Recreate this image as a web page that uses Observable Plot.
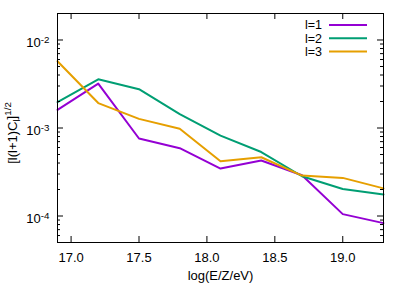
<!DOCTYPE html>
<html>
<head>
<meta charset="utf-8">
<script src="https://cdn.jsdelivr.net/npm/d3@7"></script>
<script src="https://cdn.jsdelivr.net/npm/@observablehq/plot@0.6"></script>
<style>
  html, body { margin: 0; padding: 0; background: white; }
  #chart { width: 407px; height: 285px; }
</style>
</head>
<body>
<div id="chart"></div>
<script>
// ---- data ----
const energy = [16.9, 17.2, 17.5, 17.8, 18.1, 18.4, 18.7, 19.0, 19.3];
const seriesNames = ["l=1", "l=2", "l=3"];
const seriesColors = ["#9400d3", "#009e73", "#e69f00"];
const l1 = [1.61e-3, 3.2e-3, 7.6e-4, 5.9e-4, 3.46e-4, 4.27e-4, 2.9e-4, 1.05e-4, 8.3e-5];
const l2 = [1.97e-3, 3.58e-3, 2.76e-3, 1.44e-3, 8.2e-4, 5.33e-4, 2.83e-4, 2.03e-4, 1.76e-4];
const l3 = [5.73e-3, 1.92e-3, 1.27e-3, 9.8e-4, 4.19e-4, 4.65e-4, 2.88e-4, 2.71e-4, 2.06e-4];
const xTicks = [17, 17.5, 18, 18.5, 19];
const yMajorTicks = [1e-4, 1e-3, 1e-2];
const yTickLabels = ["10^-4", "10^-3", "10^-2"];
const yMinorTicks = [6e-5, 7e-5, 8e-5, 9e-5,
  2e-4, 3e-4, 4e-4, 5e-4, 6e-4, 7e-4, 8e-4, 9e-4,
  2e-3, 3e-3, 4e-3, 5e-3, 6e-3, 7e-3, 8e-3, 9e-3];
const xLabel = "log(E/Z/eV)";
const yLabel = "[l(l+1)C_l]^{1/2}";

const rows = [l1, l2, l3].flatMap((vals, i) =>
  energy.map((e, j) => ({x: e, y: vals[j], s: seriesNames[i]})));

const W = 407, H = 285, ML = 57, MR = 24, MT = 13, MB = 43;
const plotW = W - ML - MR, plotH = H - MT - MB;

function legendMark(index, scales, values, dimensions) {
  const g = d3.create("svg:g");
  const right = dimensions.width - dimensions.marginRight;
  seriesNames.forEach((s, i) => {
    const y = dimensions.marginTop + 12 + i * 13.3;
    g.append("text")
      .attr("x", right - 61).attr("y", y).attr("dy", "0.35em")
      .attr("text-anchor", "end").attr("fill", "black")
      .attr("font-size", 12.5).text(s);
    g.append("line")
      .attr("x1", right - 54).attr("x2", right - 16)
      .attr("y1", y).attr("y2", y)
      .attr("stroke", seriesColors[i]).attr("stroke-width", 2);
  });
  return g.node();
}

const fmtY = d => yTickLabels[yMajorTicks.indexOf(d)];

const chart = Plot.plot({
  width: W,
  height: H,
  marginLeft: ML,
  marginRight: MR,
  marginTop: MT,
  marginBottom: MB,
  style: {fontFamily: "'Liberation Sans', Arial, sans-serif", fontSize: "13px", background: "white", color: "black"},
  x: {domain: [16.9, 19.3]},
  y: {type: "log", domain: [5e-5, 2e-2]},
  color: {domain: seriesNames, range: seriesColors},
  marks: [
    Plot.line(rows, {x: "x", y: "y", z: "s", stroke: "s", strokeWidth: 2}),
    // inward ticks on all four sides
    Plot.ruleX(xTicks, {x: d => d, insetTop: plotH - 6, stroke: "black"}),
    Plot.ruleX(xTicks, {x: d => d, insetBottom: plotH - 6, stroke: "black"}),
    Plot.ruleY(yMajorTicks, {y: d => d, insetRight: plotW - 6, stroke: "black"}),
    Plot.ruleY(yMajorTicks, {y: d => d, insetLeft: plotW - 6, stroke: "black"}),
    Plot.ruleY(yMinorTicks, {y: d => d, insetRight: plotW - 3, stroke: "black"}),
    Plot.ruleY(yMinorTicks, {y: d => d, insetLeft: plotW - 3, stroke: "black"}),
    Plot.axisX(xTicks, {anchor: "bottom", tickSize: 0, tickPadding: 10, label: xLabel, labelAnchor: "center", labelArrow: "none", labelOffset: 37, fontSize: 13}),
    Plot.axisY(yMajorTicks, {anchor: "left", tickSize: 0, tickPadding: 8, tickFormat: fmtY, label: null, fontSize: 13}),
    Plot.text([yLabel], {frameAnchor: "left", dx: -45, dy: 5, rotate: -90, text: d => d, fontSize: 13, textAnchor: "middle"}),
    Plot.frame({stroke: "black"}),
    legendMark
  ]
});

// superscript / subscript post-processing
d3.select(chart).selectAll("text").each(function() {
  const t = this.textContent;
  const m = /^10\^(-?\d+)$/.exec(t);
  if (m) {
    const sel = d3.select(this);
    sel.text("");
    sel.append("tspan").text("10");
    sel.append("tspan").attr("dy", "-0.45em").attr("font-size", "0.75em").text(m[1]);
    sel.attr("transform", (sel.attr("transform") || "") + " translate(0,3)");
  } else if (t === yLabel) {
    const sel = d3.select(this);
    sel.text("");
    sel.append("tspan").text("[l(l+1)C");
    sel.append("tspan").attr("dy", "0.3em").attr("font-size", "0.75em").text("l");
    sel.append("tspan").attr("dy", "-0.3em").text("]");
    sel.append("tspan").attr("dy", "-0.5em").attr("font-size", "0.75em").text("1/2");
  }
});

document.getElementById("chart").appendChild(chart);
</script>
</body>
</html>
